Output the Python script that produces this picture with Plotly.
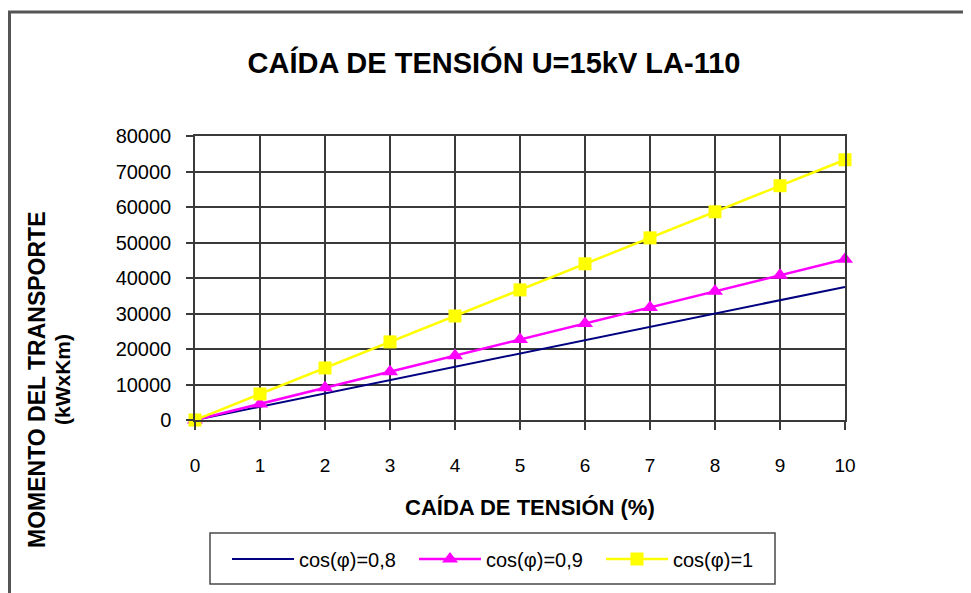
import plotly.graph_objects as go

# Caída de tensión (%) en el eje x
caida = [0, 1, 2, 3, 4, 5, 6, 7, 8, 9, 10]

# Momento del transporte (kW x km) para cada cos(phi)
momento_cos08 = [0, 3750, 7500, 11250, 15000, 18750, 22500, 26250, 30000, 33750, 37500]
momento_cos09 = [0, 4530, 9060, 13600, 18100, 22650, 27200, 31700, 36250, 40800, 45300]
momento_cos1 = [0, 7330, 14660, 22000, 29300, 36650, 44000, 51300, 58650, 66000, 73300]

y_ticks = [0, 10000, 20000, 30000, 40000, 50000, 60000, 70000, 80000]

FONT = "Liberation Sans, Arial, sans-serif"
GRID = "#3a3a3a"
OFF = 8  # la página añade 8 px de margen al body


def px_x(p):
    # posición horizontal de la página -> coordenadas "paper"
    return (p - 195) / 650


def px_y(p):
    return (420 - p) / 284


fig = go.Figure()

fig.add_trace(
    go.Scatter(
        x=caida,
        y=momento_cos08,
        name="cos(φ)=0,8",
        mode="lines",
        line=dict(color="#000080", width=2),
        cliponaxis=False,
    )
)
fig.add_trace(
    go.Scatter(
        x=caida,
        y=momento_cos09,
        name="cos(φ)=0,9",
        mode="lines+markers",
        line=dict(color="#ff00ff", width=2.5),
        marker=dict(symbol="triangle-up", size=14, color="#ff00ff"),
        cliponaxis=False,
    )
)
fig.add_trace(
    go.Scatter(
        x=caida,
        y=momento_cos1,
        name="cos(φ)=1",
        mode="lines+markers",
        line=dict(color="#ffff00", width=2.5),
        marker=dict(symbol="square", size=13, color="#ffff00"),
        cliponaxis=False,
    )
)

fig.update_layout(
    width=971,
    height=593,
    margin=dict(l=195 - OFF, r=971 - 845 + OFF, t=136 - OFF, b=593 - 420 + OFF),
    paper_bgcolor="white",
    plot_bgcolor="white",
    font=dict(family=FONT, color="black"),
    title=dict(
        text="<b>CAÍDA DE TENSIÓN U=15kV LA-110</b>",
        x=(494 - OFF) / 971,
        xanchor="center",
        xref="container",
        y=1 - (63 - OFF) / 593,
        yanchor="middle",
        yref="container",
        font=dict(family=FONT, size=29, color="black"),
    ),
    showlegend=True,
    legend=dict(
        orientation="h",
        x=px_x(227),
        xanchor="left",
        y=px_y(559),
        yanchor="middle",
        borderwidth=0,
        bgcolor="rgba(0,0,0,0)",
        font=dict(family=FONT, size=20, color="black"),
        entrywidth=110,
        itemwidth=62,
    ),
)

fig.update_xaxes(
    range=[0, 10],
    tickvals=caida,
    showgrid=True,
    gridcolor=GRID,
    gridwidth=1.5,
    showline=True,
    linecolor=GRID,
    linewidth=1.5,
    mirror=True,
    ticks="outside",
    ticklen=8,
    tickcolor=GRID,
    tickwidth=1.5,
    ticklabelstandoff=19,
    tickfont=dict(family=FONT, size=19, color="black"),
    zeroline=False,
)
fig.update_yaxes(
    range=[0, 80000],
    tickvals=y_ticks,
    tickformat="d",
    showgrid=True,
    gridcolor=GRID,
    gridwidth=1.5,
    showline=True,
    linecolor=GRID,
    linewidth=1.5,
    mirror=True,
    ticks="outside",
    ticklen=7,
    tickcolor=GRID,
    tickwidth=1.5,
    ticklabelstandoff=11,
    tickfont=dict(family=FONT, size=20, color="black"),
    zeroline=False,
)

# Títulos de los ejes
fig.add_annotation(
    text="<b>CAÍDA DE TENSIÓN (%)</b>",
    xref="paper",
    yref="paper",
    x=px_x(530),
    y=px_y(507),
    xanchor="center",
    yanchor="middle",
    showarrow=False,
    font=dict(family=FONT, size=22, color="black"),
)
fig.add_annotation(
    text="<b>MOMENTO DEL TRANSPORTE</b>",
    xref="paper",
    yref="paper",
    x=px_x(37),
    y=px_y(380),
    xanchor="center",
    yanchor="middle",
    textangle=-90,
    showarrow=False,
    font=dict(family=FONT, size=23, color="black"),
)
fig.add_annotation(
    text="<b>(kWxKm)</b>",
    xref="paper",
    yref="paper",
    x=px_x(62),
    y=px_y(380),
    xanchor="center",
    yanchor="middle",
    textangle=-90,
    showarrow=False,
    font=dict(family=FONT, size=21, color="black"),
)

# Caja de la leyenda
fig.add_shape(
    type="rect",
    xref="paper",
    yref="paper",
    x0=px_x(210),
    x1=px_x(775),
    y0=px_y(584),
    y1=px_y(533),
    line=dict(color="#4a4a4a", width=1.5),
    fillcolor="rgba(0,0,0,0)",
    layer="below",
)

# Marco exterior del gráfico
fig.add_shape(
    type="rect",
    xref="paper",
    yref="paper",
    x0=px_x(OFF + 1.5),
    x1=px_x(1100),
    y0=px_y(700),
    y1=px_y(12),
    line=dict(color="#555555", width=3),
    fillcolor="rgba(0,0,0,0)",
    layer="above",
)

fig.write_html("out.html")
